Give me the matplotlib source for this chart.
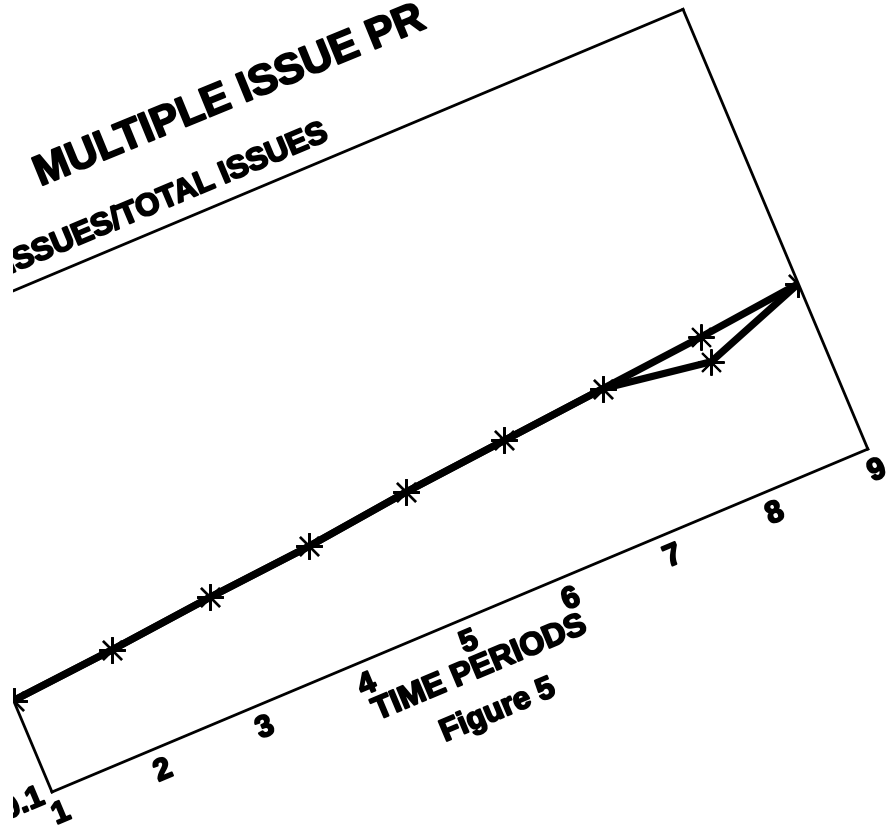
import matplotlib
matplotlib.use("Agg")
import matplotlib.pyplot as plt
import matplotlib.patheffects as pe
from matplotlib.transforms import Affine2D
from matplotlib.patches import Rectangle
from mpl_toolkits.axisartist import floating_axes
from mpl_toolkits.axisartist.grid_finder import FixedLocator, DictFormatter

# ---------------- data ----------------
periods = [1, 2, 3, 4, 5, 6, 7, 8, 9]
ratio_upper = [0.204, 0.213, 0.224, 0.233, 0.246, 0.256, 0.266, 0.276, 0.288]
ratio_lower = [0.204, 0.213, 0.224, 0.233, 0.246, 0.256, 0.266, 0.248, 0.288]
x_tick_values = [1, 2, 3, 4, 5, 6, 7, 8, 9]
x_tick_labels = ["1", "2", "3", "4", "5", "6", "7", "8", "9"]
y_tick_values = [0.1, 0.2, 0.3, 0.4, 0.5]
y_tick_labels = ["0.1", "0.2", "0.3", "0.4", "0.5"]
title_text = "MULTIPLE ISSUE PR"
subtitle_text = "ISSUES/TOTAL ISSUES"
xlabel_text = "TIME PERIODS"
caption_text = "Figure 5"

# ---------------- layout ----------------
FIG_W, FIG_H = 886, 835
X_MIN, X_MAX = 1, 9
Y_MIN, Y_MAX = 0.1, 0.6
BOX_W, BOX_H = 885.0, 477.0      # box size in pixels
ANGLE = 22.8                      # rotation of the scanned page
BL = (52.0, FIG_H - 792.0)        # bottom-left corner of the box (pixels, y up)
FONT = "Liberation Sans"
INK = [pe.withStroke(linewidth=1.4, foreground="black")]

sx = BOX_W / (X_MAX - X_MIN)
sy = BOX_H / (Y_MAX - Y_MIN)
tr = Affine2D().translate(-X_MIN, -Y_MIN).scale(sx, sy).rotate_deg(ANGLE)

corners = tr.transform([[X_MIN, Y_MIN], [X_MAX, Y_MIN], [X_MAX, Y_MAX], [X_MIN, Y_MAX]])
xmin, ymin = corners.min(axis=0)
xmax, ymax = corners.max(axis=0)
cx, cy = (xmin + xmax) / 2, (ymin + ymax) / 2
w, h = (xmax - xmin) * 1.02, (ymax - ymin) * 1.02
left = BL[0] + cx - w / 2
bottom = BL[1] + cy - h / 2

fig = plt.figure(figsize=(FIG_W / 100, FIG_H / 100), dpi=100)
fig.patch.set_facecolor("white")

grid_helper = floating_axes.GridHelperCurveLinear(
    tr, extremes=(X_MIN, X_MAX, Y_MIN, Y_MAX),
    grid_locator1=FixedLocator(x_tick_values),
    grid_locator2=FixedLocator(y_tick_values),
    tick_formatter1=DictFormatter(dict(zip(x_tick_values, x_tick_labels))),
    tick_formatter2=DictFormatter(dict(zip(y_tick_values, y_tick_labels))),
)
ax = fig.add_axes([left / FIG_W, bottom / FIG_H, w / FIG_W, h / FIG_H],
                  axes_class=floating_axes.FloatingAxes, grid_helper=grid_helper)

for side in ["left", "right", "top", "bottom"]:
    ax.axis[side].line.set_linewidth(2.0)
    ax.axis[side].line.set_color("black")
    ax.axis[side].major_ticks.set_visible(False)
    ax.axis[side].minor_ticks.set_visible(False)
for side in ["right", "top"]:
    ax.axis[side].major_ticklabels.set_visible(False)
for side in ["left", "bottom"]:
    tl = ax.axis[side].major_ticklabels
    tl.set_fontsize(22)
    tl.set_fontweight("bold")
    tl.set_fontfamily(FONT)
    tl.set_color("black")
    tl.set_path_effects(INK)
ax.axis["bottom"].major_ticklabels.set_pad(7)
ax.axis["left"].major_ticklabels.set_pad(7)

aux = ax.get_aux_axes(tr)
aux.patch = ax.patch
ax.patch.zorder = 0.9

line_kw = dict(color="black", linewidth=5.2, marker=(8, 2, 0), markersize=19,
               markeredgewidth=1.5, solid_joinstyle="round", solid_capstyle="round")
aux.plot(periods, ratio_upper, **line_kw)
aux.plot(periods, ratio_lower, **line_kw)


def uv(u, v):
    return X_MIN + u / sx, Y_MIN + v / sy


txt_kw = dict(rotation=ANGLE, rotation_mode="anchor", fontfamily=FONT,
              fontweight="bold", color="black", path_effects=INK)
aux.text(*uv(224, 563), title_text, ha="left", va="baseline", fontsize=30.5,
         **{**txt_kw, "rotation": 22.3})
aux.text(*uv(509, 494), subtitle_text, ha="right", va="baseline", fontsize=22.5, **txt_kw)
aux.text(*uv(442.5, -60), xlabel_text, ha="center", va="baseline", fontsize=23, **txt_kw)
aux.text(*uv(442.5, -106), caption_text, ha="center", va="baseline", fontsize=22.5, **txt_kw)

# the scanned page is cut off at the left border
fig.add_artist(Rectangle((0, 0), 13 / FIG_W, 1, transform=fig.transFigure,
                         facecolor="white", edgecolor="none", zorder=100))

fig.savefig("out.png", dpi=100, facecolor="white")
